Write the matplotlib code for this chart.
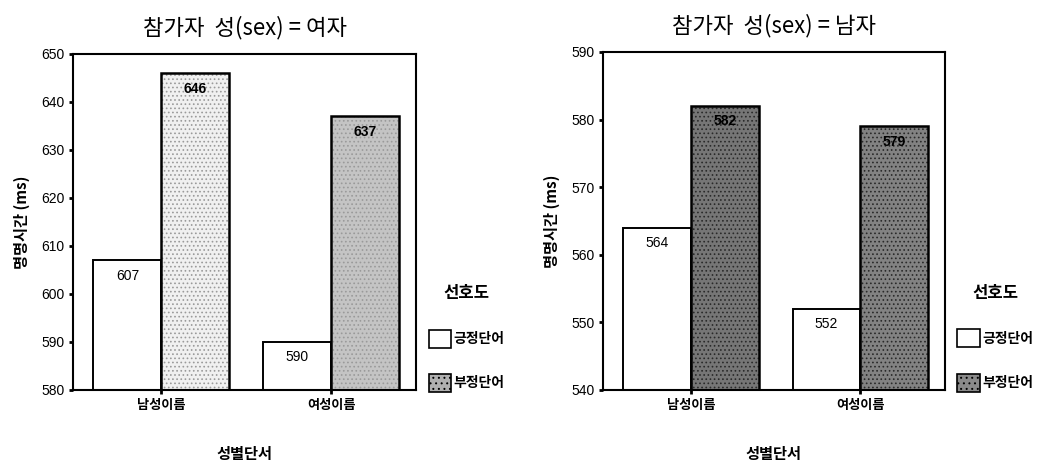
import matplotlib.pyplot as plt
from matplotlib.patches import Patch

plt.rcParams['font.family'] = ['Noto Sans CJK KR', 'DejaVu Sans']
plt.rcParams['hatch.linewidth'] = 0.7

groups = ['남성이름', '여성이름']
series = ['긍정단어', '부정단어']

# 참가자 성별 = 여자
female_pos = [607, 590]
female_neg = [646, 637]
# 참가자 성별 = 남자
male_pos = [564, 552]
male_neg = [582, 579]

panels = [
    dict(title='참가자  성(sex) = 여자', pos=female_pos, neg=female_neg,
         ylim=(580, 650), yticks=range(580, 651, 10),
         rect=[0.0695, 0.1613, 0.3264, 0.7226],
         neg_colors=['#f0f0f0', '#c4c4c4'], dots='#9a9a9a',
         legend_color='#b0b0b0'),
    dict(title='참가자  성(sex) = 남자', pos=male_pos, neg=male_neg,
         ylim=(540, 590), yticks=range(540, 591, 10),
         rect=[0.5737, 0.1613, 0.3254, 0.7269],
         neg_colors=['#767676', '#828282'], dots='#2a2a2a',
         legend_color='#8a8a8a'),
]

fig = plt.figure(figsize=(10.51, 4.65), dpi=100)
width = 0.4
x = [0, 1]

for p in panels:
    ax = fig.add_axes(p['rect'])
    lo = p['ylim'][0]
    pos_h = [v - lo for v in p['pos']]
    neg_h = [v - lo for v in p['neg']]
    neg_x = [i + width / 2 for i in x]
    ax.bar([i - width / 2 for i in x], pos_h, width, bottom=lo,
           color='white', edgecolor='black', linewidth=1.4)
    # stippled fill first, then a plain black outline on top
    ax.bar(neg_x, neg_h, width, bottom=lo, color=p['neg_colors'],
           edgecolor=p['dots'], linewidth=0, hatch='....')
    ax.bar(neg_x, neg_h, width, bottom=lo, fill=False,
           edgecolor='black', linewidth=1.8)

    for i in x:
        ax.annotate(str(p['pos'][i]), (i - width / 2, p['pos'][i]),
                    xytext=(0, -6), textcoords='offset points',
                    ha='center', va='top', fontsize=10,
                    family=['Liberation Sans', 'DejaVu Sans'])
        ax.annotate(str(p['neg'][i]), (i + width / 2, p['neg'][i]),
                    xytext=(0, -6), textcoords='offset points',
                    ha='center', va='top', fontsize=10, fontweight='bold',
                    family=['Liberation Sans', 'DejaVu Sans'])

    ax.set_xlim(-0.52, 1.5)
    ax.set_ylim(*p['ylim'])
    ax.set_yticks(list(p['yticks']))
    ax.set_yticklabels([str(t) for t in p['yticks']],
                       family=['Liberation Sans', 'DejaVu Sans'], fontsize=10)
    ax.set_xticks(x)
    ax.set_xticklabels(groups, fontsize=9.5, fontweight='bold')
    ax.tick_params(axis='both', length=3, width=2, direction='out', pad=3)
    for s in ax.spines.values():
        s.set_linewidth(1.5)

    ax.set_ylabel('명명시간 (ms)', fontsize=11, fontweight='bold', labelpad=8)
    ax.set_xlabel('성별단서', fontsize=11, fontweight='bold', labelpad=24)
    ax.set_title(p['title'], fontsize=16, pad=14)

    handles = [Patch(facecolor='white', edgecolor='black', linewidth=1.2),
               Patch(facecolor=p['legend_color'], edgecolor='black',
                     linewidth=1.2, hatch='...')]
    leg = ax.legend(handles, series, title='선호도', loc='center left',
                    bbox_to_anchor=(1.02, 0.155), frameon=False,
                    handlelength=1.6, handleheight=1.6, handletextpad=0.2,
                    labelspacing=1.9, borderaxespad=0,
                    prop={'size': 10, 'weight': 'bold'},
                    title_fontproperties={'size': 12, 'weight': 'bold'})
    leg._legend_box.sep = 20

fig.savefig('out.png', dpi=100)
